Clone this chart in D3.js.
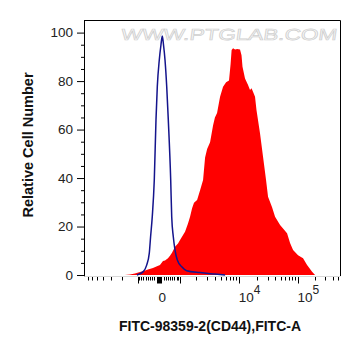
<!DOCTYPE html>
<html><head><meta charset="utf-8">
<script src="https://cdn.jsdelivr.net/npm/d3@7"></script>
<style>html,body{margin:0;padding:0;background:#fff;}svg{display:block;font-family:"Liberation Sans",Arial,sans-serif;}</style>
</head><body>
<svg id="chart" width="361" height="356"></svg>
<script>
// ---- data ----
const xDomain = [-7900, 550000];
const yDomain = [-0.4, 105.2];
const yMajorTicks = [0, 20, 40, 60, 80, 100];
const yMinorTicks = [5, 10, 15, 25, 30, 35, 45, 50, 55, 65, 70, 75, 85, 90, 95];
const xMajorTicks = [-1000, 0, 1000, 10000, 100000];
const xMinorTicks = [-7000, -6000, -5000, -4000, -3000, -2000,
  -900, -800, -700, -600, -500, -400, -300, -200, -100,
  100, 200, 300, 400, 500, 600, 700, 800, 900,
  2000, 3000, 4000, 5000, 6000, 7000, 8000, 9000,
  20000, 30000, 40000, 50000, 60000, 70000, 80000, 90000,
  200000, 300000, 400000, 500000];
const xTickLabels = [{v: 0, base: "0", sup: ""}, {v: 10000, base: "10", sup: "4"}, {v: 100000, base: "10", sup: "5"}];

const sampleX = [-1780, -1440, -1145, -876, -723, -489, -264, -87, 44, 175, 264, 397, 489, 582, 726, 876, 981,
  1145, 1260, 1440, 1573, 1712, 1850, 2090, 2344, 2624, 2828, 3050, 3400, 3790, 4060, 4390, 4900, 5470, 6120,
  6814, 7230, 7510, 7930, 8550, 9230, 10290, 10890, 11310, 12440, 13960, 15070, 15960, 16910, 18270, 19360,
  22190, 24950, 28060, 30350, 35550, 40030, 48780, 64400, 72570, 81800, 99850, 122000, 143300, 175200, 197500];
const sampleY = [0, 0.2, 0.6, 1.3, 1.6, 2.3, 2.9, 3.6, 4.1, 5.8, 6.0, 6.9, 8.0, 9.2, 11.7, 13.0, 14.4,
  16.5, 17.9, 21.3, 24, 27.5, 29.8, 31, 35, 39.2, 48.5, 52, 54.8, 61.7, 65, 66.8, 73.5, 77.7, 79.5,
  80.2, 87, 92.8, 93.5, 93, 93.2, 93, 90.7, 85.9, 81.1, 78.4, 76.3, 77, 75.6, 73.5, 68,
  58.4, 48.8, 39.2, 32.3, 28, 24, 20.6, 17.2, 13.2, 10.3, 8.2, 6.9, 4.1, 1.4, 0];

const controlX = [-1035, -710, -549, -430, -370, -296, -206, -131, -74, 13, 87, 144, 197, 264, 340, 411,
  521, 568, 643, 726, 841, 1074, 1360, 2340, 4060, 5900];
const controlY = [0, 1.4, 4.1, 8.9, 15.8, 24, 39.2, 64, 77.7, 88.7, 95, 98.6, 95, 88.7, 77.7, 64,
  39.2, 24, 15.8, 10.3, 6.2, 3.4, 1.8, 1.0, 0.4, 0];

const xTitle = "FITC-98359-2(CD44),FITC-A";
const yTitle = "Relative Cell Number";
const watermark = "WWW.PTGLAB.COM";

// ---- logicle-like (biexponential) display transform ----
const LC = 360, LP = 2;
function biex(v) { return LC * (Math.pow(10, v) - LP * LP * Math.pow(10, -v / LP) + LP * LP - 1); }
function toDisplay(x) {
  const s = Math.sign(x), a = Math.abs(x);
  if (a === 0) return 0;
  let lo = 0, hi = 6;
  for (let i = 0; i < 60; i++) { const m = (lo + hi) / 2; if (biex(m) < a) lo = m; else hi = m; }
  return s * (lo + hi) / 2;
}

const L = 84.5, R = 340.5, T = 20.5, B = 276;
const xs = d3.scaleLinear().domain(xDomain.map(toDisplay)).range([L + 0.5, R]);
const x = v => xs(toDisplay(v));
const y = d3.scaleLinear().domain(yDomain).range([B, T - 0.5]);

const svg = d3.select("#chart");

// watermark
svg.append("text").attr("x", 121).attr("y", 40).attr("textLength", 216).attr("lengthAdjust", "spacingAndGlyphs")
  .attr("font-size", 16).attr("fill", "#fbfbfb").attr("stroke", "#d0d0d0").attr("stroke-width", 0.7)
  .attr("transform", "skewX(-8) translate(5,0)").text(watermark);

// histograms
const sample = sampleX.map((v, i) => [v, sampleY[i]]);
const control = controlX.map((v, i) => [v, controlY[i]]);
svg.append("path").datum(sample)
  .attr("d", d3.area().x(d => x(d[0])).y0(y(0)).y1(d => y(d[1])).curve(d3.curveLinear))
  .attr("fill", "#ff0000");
svg.append("path").datum(control)
  .attr("d", d3.line().x(d => x(d[0])).y(d => y(d[1])).curve(d3.curveMonotoneX))
  .attr("fill", "none").attr("stroke", "#14148c").attr("stroke-width", 1.5);

// frame
svg.append("line").attr("x1", L).attr("x2", L).attr("y1", T - 0.5).attr("y2", B + 0.5).attr("stroke", "#000");
svg.append("line").attr("x1", L).attr("x2", R).attr("y1", T).attr("y2", T).attr("stroke", "#000");
svg.append("line").attr("x1", R).attr("x2", R).attr("y1", T).attr("y2", B).attr("stroke", "#000");
svg.append("line").attr("x1", L).attr("x2", R).attr("y1", B + 0.5).attr("y2", B + 0.5).attr("stroke", "#d8d8d8");

// y axis
const yAxis = svg.append("g").attr("transform", `translate(${L},0)`)
  .call(d3.axisLeft(y).tickValues(yMajorTicks).tickSize(7.5).tickPadding(4).tickFormat(d3.format("d")));
yAxis.select(".domain").remove();
yAxis.selectAll("text").attr("font-size", 13.5).attr("fill", "#222").attr("font-family", "Liberation Sans, Arial, sans-serif");
const yMinor = svg.append("g").attr("transform", `translate(${L},0)`)
  .call(d3.axisLeft(y).tickValues(yMinorTicks).tickSize(3.5).tickFormat(""));
yMinor.select(".domain").remove();

// x axis ticks
const xt = svg.append("g");
xt.selectAll("line.minor").data(xMinorTicks).join("line").attr("class", "minor")
  .attr("x1", d => Math.round(x(d)) + 0.5).attr("x2", d => Math.round(x(d)) + 0.5)
  .attr("y1", B + 1).attr("y2", B + 4.5).attr("stroke", "#000");
xt.selectAll("line.major").data(xMajorTicks).join("line").attr("class", "major")
  .attr("x1", d => Math.round(x(d)) + 0.5).attr("x2", d => Math.round(x(d)) + 0.5)
  .attr("y1", B + 1).attr("y2", B + 7.5).attr("stroke", "#000")
  .attr("stroke-width", d => d === 0 ? 5 : 1);

const lab = xt.selectAll("text").data(xTickLabels).join("text")
  .attr("x", d => x(d.v) - 0.5).attr("y", 302).attr("font-size", 13.5).attr("fill", "#222");
lab.append("tspan").text(d => d.base);
lab.filter(d => d.sup).append("tspan").attr("dy", -8).attr("font-size", 12).text(d => d.sup);

// titles
svg.append("text").attr("x", 210).attr("y", 331).attr("text-anchor", "middle")
  .attr("font-size", 14).attr("font-weight", "bold").attr("fill", "#111").text(xTitle);
svg.append("text").attr("transform", "translate(33,145) rotate(-90)").attr("text-anchor", "middle")
  .attr("font-size", 14.5).attr("font-weight", "bold").attr("fill", "#111").text(yTitle);
</script>
</body></html>
